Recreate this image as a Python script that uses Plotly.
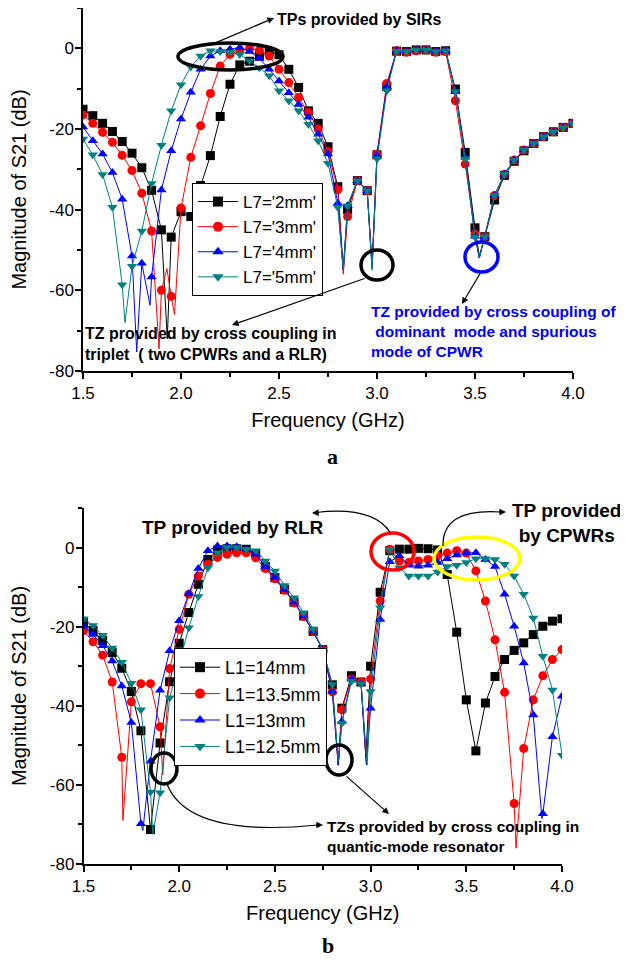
import plotly.graph_objects as go

W, H = 628, 962          # browser window
OFF = 8                  # default page margin around the plot div
FW, FH = W - OFF, H - OFF
FONT = "Arial, Liberation Sans, Helvetica, sans-serif"

# ---------------- data ----------------
freq = [1.50, 1.55, 1.60, 1.65, 1.70, 1.75, 1.80, 1.85, 1.90, 1.95,
        2.00, 2.05, 2.10, 2.15, 2.20, 2.25, 2.30, 2.35, 2.40, 2.45,
        2.50, 2.55, 2.60, 2.65, 2.70, 2.75, 2.80, 2.85, 2.90, 2.95,
        3.00, 3.05, 3.10, 3.15, 3.20, 3.25, 3.30, 3.35, 3.40, 3.45,
        3.50, 3.55, 3.60, 3.65, 3.70, 3.75, 3.80, 3.85, 3.90, 3.95, 4.00]

# panel a : L7 sweep (values at marker frequencies)
a_2mm = [-15.1, -16.7, -18.6, -20.6, -23.1, -26.0, -29.6, -35.2, -45.0, -46.8,
         -40.5, -41.7, -34.0, -26.6, -16.9, -8.9, -4.1, -3.2, -1.9, -0.8,
         -1.6, -5.2, -9.7, -15.5, -18.6, -24.4, -34.3, -40.0, -32.8, -35.3,
         -26.4, -9.5, -0.7, -0.8, -0.4, -0.4, -0.8, -0.6, -10.1, -25.8,
         -44.5, -46.7, -37.6, -31.5, -28.0, -25.4, -23.6, -21.9, -20.7, -19.6, -18.6]
a_3mm = [-16.5, -18.6, -20.8, -23.3, -26.5, -30.3, -35.9, -45.3, -60.0, -61.5,
         -39.6, -27.0, -19.2, -11.2, -4.4, -1.5, -0.5, 0.0, -0.5, -1.9,
         -5.2, -8.5, -12.2, -15.9, -20.0, -25.6, -35.0, -41.7, -32.8, -35.3,
         -26.2, -8.7, -0.6, -1.0, -0.6, -0.4, -1.0, -0.8, -13.0, -28.7,
         -46.0, -46.7, -36.5, -31.2, -27.7, -25.2, -23.6, -21.9, -20.7, -19.6, -18.6]
a_4mm = [-19.5, -22.9, -26.2, -30.8, -37.4, -51.5, -53.3, -56.7, -35.1, -25.4,
         -17.5, -10.9, -5.2, -1.9, -0.6, -0.2, 0.2, -0.8, -2.5, -5.2,
         -8.1, -11.0, -13.9, -17.1, -21.3, -26.2, -38.4, -39.0, -32.8, -35.3,
         -26.6, -9.5, -0.6, -0.7, -0.4, -0.4, -0.8, -0.6, -10.7, -27.0,
         -46.6, -46.7, -36.5, -31.2, -27.7, -25.2, -23.6, -21.9, -20.7, -19.6, -18.6]
a_5mm = [-22.5, -26.4, -31.3, -39.4, -58.6, -54.0, -45.3, -33.5, -24.0, -15.5,
         -9.0, -4.6, -1.9, -0.6, -0.8, -1.0, -1.5, -3.1, -4.8, -6.8,
         -10.5, -13.0, -15.5, -18.8, -22.9, -28.5, -39.4, -39.0, -32.8, -35.3,
         -27.4, -10.5, -0.7, -0.8, -0.4, -0.4, -0.8, -0.6, -10.7, -27.4,
         -46.8, -46.7, -36.5, -31.2, -27.7, -25.2, -23.6, -21.9, -20.7, -19.6, -18.6]
# extra curve points between markers (sharp transmission zeros)
a_2mm_xf = [1.930, 2.828, 2.975, 3.522]
a_2mm_xv = [-72.0, -55.0, -54.0, -51.5]
a_3mm_xf = [1.888, 1.928, 1.967, 2.828, 2.975, 3.522]
a_3mm_xv = [-74.5, -54.6, -66.0, -56.0, -54.0, -52.0]
a_4mm_xf = [1.774, 1.842, 2.828, 2.975, 3.522]
a_4mm_xv = [-75.3, -63.7, -55.0, -54.5, -52.0]
a_5mm_xf = [1.714, 2.828, 2.975, 3.522]
a_5mm_xv = [-68.0, -55.0, -55.0, -52.0]

# panel b : L1 sweep
b_14 = [-19.0, -21.0, -23.5, -26.5, -30.5, -36.4, -46.3, -71.3, -49.4, -33.9,
        -24.2, -16.4, -9.3, -3.0, -0.6, -0.3, -0.3, -0.4, -1.6, -4.8,
        -7.6, -10.6, -13.8, -17.3, -21.2, -25.8, -34.7, -40.6, -32.4, -34.0,
        -30.0, -11.3, -0.8, -0.4, -0.4, -0.2, -0.3, -0.6, -6.8, -21.4,
        -38.5, -51.4, -39.3, -32.6, -28.3, -26.0, -24.1, -22.0, -19.9, -18.6, -18.0]
b_135 = [-21.0, -23.8, -27.2, -34.0, -53.0, -39.0, -34.4, -34.4, -45.3, -30.6,
         -20.7, -11.8, -7.2, -4.2, -2.5, -1.7, -1.3, -1.3, -2.6, -5.3,
         -7.9, -10.8, -14.0, -17.4, -21.2, -25.8, -36.5, -41.0, -33.2, -34.0,
         -33.2, -13.5, -0.4, -3.4, -3.8, -3.4, -3.0, -2.1, -1.4, -0.8,
         -1.4, -5.9, -13.5, -23.3, -36.6, -64.7, -50.8, -38.5, -32.4, -28.3, -25.8]
b_13 = [-19.9, -22.0, -24.8, -28.7, -35.0, -44.2, -69.8, -54.0, -36.1, -26.1,
        -18.5, -11.7, -5.3, -0.8, 0.4, 0.4, 0.2, -0.4, -1.7, -4.8,
        -7.6, -10.6, -13.8, -17.3, -21.2, -25.8, -36.4, -44.0, -33.2, -34.4,
        -40.6, -18.2, -3.6, -2.1, -4.5, -4.7, -4.5, -3.8, -2.8, -1.9,
        -1.4, -1.3, -3.0, -4.8, -11.8, -19.9, -29.2, -42.3, -67.3, -47.8, -37.6]
b_125 = [-18.0, -19.7, -22.2, -25.4, -29.0, -34.3, -41.0, -61.8, -62.0, -38.0,
         -29.0, -20.3, -12.4, -5.1, -1.3, 0.0, 0.0, -0.4, -0.8, -3.4,
         -5.9, -9.6, -12.7, -16.5, -20.6, -25.8, -34.6, -44.4, -33.8, -34.4,
         -36.4, -15.2, -0.5, -5.1, -7.2, -7.2, -7.2, -6.2, -4.8, -4.5,
         -3.8, -2.8, -2.8, -3.0, -4.2, -7.2, -11.8, -17.8, -27.5, -36.0, -52.5]
b_14_xf = [2.831, 2.975]
b_14_xv = [-55.0, -53.0]
b_135_xf = [1.706, 1.914, 2.831, 2.978, 3.760]
b_135_xv = [-69.0, -57.5, -55.0, -54.5, -76.0]
b_13_xf = [1.810, 2.831, 2.978, 3.895]
b_13_xv = [-71.5, -55.0, -55.0, -68.5]
b_125_xf = [1.862, 2.831, 2.982]
b_125_xv = [-72.5, -54.0, -55.0]

names_a = ["L7='2mm'", "L7='3mm'", "L7='4mm'", "L7='5mm'"]
names_b = ["L1=14mm", "L1=13.5mm", "L1=13mm", "L1=12.5mm"]
colors = ["#000000", "#FF0000", "#0000FF", "#008080"]
symbols = ["square", "circle", "triangle-up", "triangle-down"]

x_tickvals = [1.5, 2.0, 2.5, 3.0, 3.5, 4.0]
x_ticktext = ["1.5", "2.0", "2.5", "3.0", "3.5", "4.0"]
x_minor = [1.75, 2.25, 2.75, 3.25, 3.75]
y_tickvals = [0, -20, -40, -60, -80]
y_ticktext = ["0", "-20", "-40", "-60", "-80"]
y_minor = [10, -10, -30, -50, -70]


def px(x):
    """window pixel x -> paper fraction"""
    return (x - OFF) / FW


def py(y):
    """window pixel y -> paper fraction"""
    return 1 - (y - OFF) / FH


def merged(f, v, xf, xv):
    pts = sorted(list(zip(f, v)) + list(zip(xf, xv)))
    return [p[0] for p in pts], [p[1] for p in pts]


fig = go.Figure()

panels = [
    ("x", "y", "legend", names_a,
     [(a_2mm, a_2mm_xf, a_2mm_xv), (a_3mm, a_3mm_xf, a_3mm_xv),
      (a_4mm, a_4mm_xf, a_4mm_xv), (a_5mm, a_5mm_xf, a_5mm_xv)]),
    ("x2", "y2", "legend2", names_b,
     [(b_14, b_14_xf, b_14_xv), (b_135, b_135_xf, b_135_xv),
      (b_13, b_13_xf, b_13_xv), (b_125, b_125_xf, b_125_xv)]),
]

for xa, ya, leg, names, series in panels:
    for k, (vals, xf, xv) in enumerate(series):
        lx, ly = merged(freq, vals, xf, xv)
        fig.add_trace(go.Scatter(x=lx, y=ly, mode="lines", xaxis=xa, yaxis=ya,
                                 line=dict(color=colors[k], width=1),
                                 showlegend=False, hoverinfo="skip"))
        fig.add_trace(go.Scatter(x=freq, y=vals, mode="markers", xaxis=xa, yaxis=ya,
                                 marker=dict(symbol=symbols[k], color=colors[k], size=9,
                                             line=dict(width=0)),
                                 showlegend=False))
    for k in range(4):
        fig.add_trace(go.Scatter(x=[None], y=[None], mode="lines+markers", xaxis=xa, yaxis=ya,
                                 name=names[k], legend=leg,
                                 line=dict(color=colors[k], width=1),
                                 marker=dict(symbol=symbols[k], color=colors[k], size=10)))

axis_common = dict(showline=True, linecolor="black", linewidth=1.5, ticks="outside",
                   ticklen=6, tickwidth=1.5, tickcolor="black", showgrid=False,
                   zeroline=False, automargin=False,
                   tickfont=dict(family=FONT, size=17, color="black"))

xcommon = dict(axis_common, range=[1.5, 4.0], tickmode="array", tickvals=x_tickvals,
               ticktext=x_ticktext,
               minor=dict(tickmode="array", tickvals=x_minor, ticks="outside", ticklen=4,
                          tickwidth=1.5, tickcolor="black"),
               title=dict(text="Frequency (GHz)", font=dict(family=FONT, size=20, color="black"),
                          standoff=11))
ycommon = dict(axis_common, range=[-80, 10], tickmode="array", tickvals=y_tickvals,
               ticktext=y_ticktext, ticklabelstandoff=-2,
               minor=dict(tickmode="array", tickvals=y_minor, ticks="outside", ticklen=4,
                          tickwidth=1.5, tickcolor="black"),
               title=dict(text="Magnitude of S21 (dB)", font=dict(family=FONT, size=20, color="black"),
                          standoff=18))

fig.update_layout(
    template="none",
    width=FW, height=FH, margin=dict(l=0, r=0, t=0, b=0, pad=0),
    paper_bgcolor="white", plot_bgcolor="white",
    font=dict(family=FONT, color="black"),
    xaxis=dict(xcommon, domain=[px(83), px(573)], anchor="y"),
    yaxis=dict(ycommon, domain=[py(371), py(8)], anchor="x"),
    xaxis2=dict(xcommon, domain=[px(83.5), px(562)], anchor="y2"),
    yaxis2=dict(ycommon, domain=[py(864), py(508)], anchor="x2"),
    legend=dict(x=px(192), y=py(183), xanchor="left", yanchor="top",
                bordercolor="black", borderwidth=1, bgcolor="white", itemwidth=40,
                font=dict(family=FONT, size=17, color="black"), tracegroupgap=0),
    legend2=dict(x=px(174), y=py(648), xanchor="left", yanchor="top",
                 bordercolor="black", borderwidth=1, bgcolor="white", itemwidth=40,
                 font=dict(family=FONT, size=18, color="black"), tracegroupgap=0),
    showlegend=True,
)

# ------------- decorations (circles, arrows, notes) -------------
def ell(x0, x1, y0, y1, color, w=3.5):
    return dict(type="circle", xref="paper", yref="paper", x0=px(x0), x1=px(x1),
                y0=py(y1), y1=py(y0), line=dict(color=color, width=w))


def qpath(p0, c, p1):
    return dict(type="path", xref="paper", yref="paper",
                path="M %f,%f Q %f,%f %f,%f" % (px(p0[0]), py(p0[1]), px(c[0]), py(c[1]),
                                              px(p1[0]), py(p1[1])),
                line=dict(color="black", width=1.2))


shapes = [
    ell(178, 283, 43, 70, "black"),
    ell(361, 393, 250, 280, "black"),
    ell(465, 498, 242, 272, "#0000FF"),
    ell(371, 414, 533, 570, "#FF0000"),
    ell(434, 520, 537, 580, "#FFFF00"),
    ell(151, 177, 753, 784, "black"),
    ell(326, 352, 745, 775, "black"),
    qpath((390, 532), (372, 506), (316, 512.5)),
    qpath((443, 546), (442, 508), (501, 512)),
    qpath((167, 784), (188, 838), (318, 825)),
]
fig.update_layout(shapes=shapes)


def arrow(hx, hy, tx, ty):
    return dict(x=px(hx), y=py(hy), xref="paper", yref="paper", text="", showarrow=True,
                ax=tx - hx, ay=ty - hy, arrowhead=2, arrowsize=1.1, arrowwidth=1.2,
                arrowcolor="black", standoff=0, startstandoff=0)


def note(x, y, text, size, color="black", xanchor="left", align="left", bold=True, family=FONT):
    t = "<b>%s</b>" % text if bold else text
    return dict(x=px(x), y=py(y), xref="paper", yref="paper", text=t, showarrow=False,
                xanchor=xanchor, yanchor="middle", align=align,
                font=dict(family=family, size=size, color=color))


annotations = [
    arrow(274, 18, 208, 46),
    arrow(232, 325, 366, 278),
    arrow(462, 304, 481, 272),
    arrow(389, 814, 345, 775),
    arrow(312, 513, 320, 512.5),
    arrow(506, 512, 498, 512),
    arrow(323, 825, 315, 825),
    note(275, 20, "TPs provided by SIRs", 16),
    note(83, 344, "TZ provided by cross coupling in<br>triplet  ( two CPWRs and a RLR)", 16),
    note(369, 331.5, "TZ provided by cross coupling of<br> dominant  mode and spurious<br>mode of CPWR",
         15.5, color="#0000FF"),
    note(140, 527, "TP provided by RLR", 19),
    note(566, 523, "TP provided<br>by CPWRs", 19, xanchor="center", align="center"),
    note(325, 836, "TZs provided by cross coupling in<br>quantic-mode resonator", 15.5),
    note(332, 457, "a", 22, family="Times New Roman, Liberation Serif, serif", xanchor="center"),
    note(328, 945, "b", 22, family="Times New Roman, Liberation Serif, serif", xanchor="center"),
]
fig.update_layout(annotations=annotations)

fig.write_html("out.html")
